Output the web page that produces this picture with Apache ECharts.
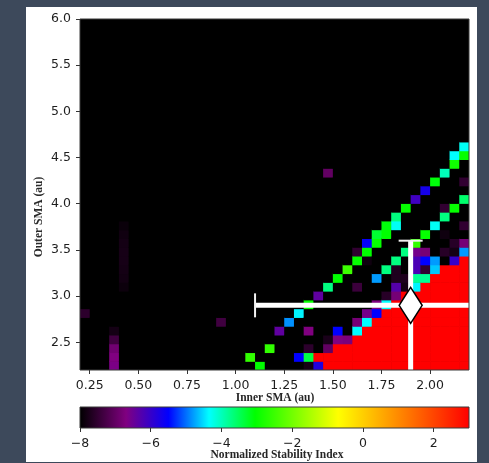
<!DOCTYPE html>
<html><head><meta charset="utf-8">
<script src="https://cdn.jsdelivr.net/npm/echarts@6/dist/echarts.min.js"></script>
<style>html,body{margin:0;padding:0;background:#3d495b;}#c{width:489px;height:463px;}</style>
</head><body><div id="c"></div>
<script>
// ---- grid of simulated orbits (cell centres) ----
const innerSma = [0.225,0.275,0.325,0.375,0.425,0.475,0.525,0.575,0.625,0.675,
  0.725,0.775,0.825,0.875,0.925,0.975,1.025,1.075,1.125,1.175,
  1.225,1.275,1.325,1.375,1.425,1.475,1.525,1.575,1.625,1.675,
  1.725,1.775,1.825,1.875,1.925,1.975,2.025,2.075,2.125,2.175];
const outerSma = [2.2475,2.3425,2.4375,2.5325,2.6275,2.7225,2.8175,2.9125,3.0075,3.1025,
  3.1975,3.2925,3.3875,3.4825,3.5775,3.6725,3.7675,3.8625,3.9575,4.0525,
  4.1475,4.2425,4.3375,4.4325,4.5275,4.6225,4.7175,4.8125,4.9075,5.0025,
  5.0975,5.1925,5.2875,5.3825,5.4775,5.5725,5.6675,5.7625,5.8575,5.9525];
const xTicks = [0.25,0.50,0.75,1.00,1.25,1.50,1.75,2.00];
const yTicks = [2.5,3.0,3.5,4.0,4.5,5.0,5.5,6.0];
const cbarTicks = [-8,-6,-4,-2,0,2];
const indexRange = [-8, 3];
const backgroundIndex = -8;
const stableIndex = 3;
// stable (red) runs: [column, fromRow, toRow]
const stableRuns = [[24,1,1],[25,0,1],[26,0,2],[27,0,2],[28,0,3],[29,0,4],[30,0,5],[31,0,6],
  [32,0,7],[33,0,8],[34,0,8],[35,0,9],[36,0,10],[37,0,11],[38,0,11],[39,0,12]];
// other cells: [column, row, stability index]
const cells = [
  [0,6,-7.55],
  [3,0,-6.65],[3,1,-6.7],[3,2,-6.85],[3,3,-7.35],[3,4,-7.8],
  [4,9,-7.88],[4,10,-7.82],[4,11,-7.8],[4,12,-7.78],[4,13,-7.78],[4,14,-7.8],[4,15,-7.84],[4,16,-7.9],
  [14,5,-7.35],[25,22,-7.0],
  [17,1,-2.6],[18,0,-3.05],[19,2,-2.6],
  [20,4,-6.4],[21,5,-4.85],[22,6,-4.4],[23,7,-3.0],[24,8,-6.4],[25,9,-3.7],[26,10,-3.05],
  [27,11,-2.5],[28,12,-3.0],[28,13,-7.5],[29,13,-3.05],[29,14,-5.55],[30,14,-3.0],[30,15,-3.3],
  [31,15,-3.05],[31,16,-3.1],[32,16,-4.3],[32,17,-3.7],[33,18,-3.0],[34,19,-6.1],[35,20,-5.7],
  [36,21,-3.1],[37,22,-4.0],[38,23,-2.9],[38,24,-4.35],[39,24,-3.0],[39,25,-4.3],
  [22,1,-5.5],[23,1,-3.4],[23,0,-7.8],[24,0,-5.8],
  [23,2,-7.55],[25,2,-7.0],
  [25,3,-7.75],[26,3,-6.7],[27,3,-6.75],
  [23,4,-6.7],[26,4,-5.5],[28,4,-4.35],
  [28,5,-6.8],[29,5,-4.35],
  [29,6,-6.6],[30,6,-5.5],
  [30,7,-6.7],[31,7,-4.35],
  [31,8,-7.6],[32,8,-6.8],
  [28,9,-7.4],[32,9,-6.3],[33,9,-7.8],[34,9,-4.4],
  [30,10,-4.8],[32,10,-7.7],[33,10,-7.7],[34,10,-3.8],[35,10,-3.8],
  [31,11,-3.7],[32,11,-7.7],[34,11,-6.2],[35,11,-7.5],[36,11,-4.6],
  [29,12,-7.85],[32,12,-3.7],[34,12,-6.2],[35,12,-5.5],[36,12,-4.8],[38,12,-6.0],
  [33,13,-3.7],[34,13,-6.6],[35,13,-6.8],[37,13,-7.6],[38,13,-7.8],[39,13,-4.8],
  [34,14,-2.6],[38,14,-7.6],[39,14,-6.8],
  [35,15,-3.0],[37,15,-7.85],
  [36,16,-4.3],[39,16,-7.5],
  [37,17,-3.7],
  [37,18,-7.5],[38,18,-3.0],
  [39,19,-3.6],
  [39,21,-7.5]
];
// measured system: [x, y, xErrLow, xErrHigh, yErrLow, yErrHigh]
const measurement = [[1.9, 2.9, 0.8, 0.8, 0.8, 0.7]];
// colormap stops [index, colour]
const cmapStops = [[-8,'#000000'],[-6.7,'#800080'],[-5.5,'#0000ff'],[-4.35,'#00ffff'],
  [-3.05,'#00ff00'],[-0.7,'#ffff00'],[3,'#ff0000']];

// ---- build matrix ----
const matrix = innerSma.map(() => outerSma.map(() => backgroundIndex));
stableRuns.forEach(([c, r0, r1]) => { for (let r = r0; r <= r1; r++) matrix[c][r] = stableIndex; });
cells.forEach(([c, r, v]) => { matrix[c][r] = v; });
const heatData = [];
innerSma.forEach((x, c) => outerSma.forEach((y, r) => heatData.push([x, y, matrix[c][r]])));
const cellW = innerSma[1] - innerSma[0];
const cellH = outerSma[1] - outerSma[0];

function hexRgb(h){ return [parseInt(h.slice(1,3),16),parseInt(h.slice(3,5),16),parseInt(h.slice(5,7),16)]; }
function cmap(v){
  if (v <= cmapStops[0][0]) return cmapStops[0][1];
  for (let i = 1; i < cmapStops.length; i++) {
    if (v <= cmapStops[i][0]) {
      const [v0,c0] = cmapStops[i-1], [v1,c1] = cmapStops[i];
      const t = (v - v0) / (v1 - v0), a = hexRgb(c0), b = hexRgb(c1);
      return 'rgb(' + a.map((q,k) => Math.round(q + (b[k]-q)*t)).join(',') + ')';
    }
  }
  return cmapStops[cmapStops.length-1][1];
}

const PL = 80, PT = 19, PW = 389, PH = 351;
const CT = 407, CH = 21;
const tickFont = {fontFamily:'DejaVu Sans', fontSize:12.5, color:'#1e1e1e'};
const titleFont = 'bold 11.5px "Liberation Serif"';

const chart = echarts.init(document.getElementById('c'), null, {renderer:'canvas'});
chart.setOption({
  animation:false,
  backgroundColor:'#3d495b',
  graphic:[
    {type:'rect', z:-10, shape:{x:26,y:7,width:451,height:455}, style:{fill:'#ffffff'}},
    {type:'rect', z:100, shape:{x:PL,y:PT,width:PW,height:PH}, style:{fill:'none',stroke:'#3a3a3a',lineWidth:1}},
    {type:'rect', z:100, shape:{x:PL,y:CT,width:PW,height:CH}, style:{fill:'none',stroke:'#3a3a3a',lineWidth:1}},
    {type:'text', z:100, x:275, y:398, style:{text:'Inner SMA (au)', font:titleFont, fill:'#262626', align:'center', verticalAlign:'middle'}},
    {type:'text', z:100, x:277, y:455, style:{text:'Normalized Stability Index', font:titleFont, fill:'#262626', align:'center', verticalAlign:'middle'}},
    {type:'text', z:100, x:39, y:217, rotation:Math.PI/2, style:{text:'Outer SMA (au)', font:titleFont, fill:'#2a2a2a', align:'center', verticalAlign:'middle'}}
  ],
  grid:[
    {left:PL, top:PT, width:PW, height:PH, show:true, backgroundColor:'#000000', borderWidth:0},
    {left:PL, top:CT, width:PW, height:CH, show:false}
  ],
  xAxis:[
    {type:'value', gridIndex:0, min:0.2, max:2.2, splitLine:{show:false},
     axisLine:{show:false},
     axisTick:{show:true, length:4, customValues:xTicks, lineStyle:{color:'#333'}},
     axisLabel:{customValues:xTicks, margin:9, formatter:v=>v.toFixed(2), ...tickFont}},
    {type:'value', gridIndex:1, min:indexRange[0], max:indexRange[1], splitLine:{show:false},
     axisLine:{show:false},
     axisTick:{show:true, length:4, customValues:cbarTicks, lineStyle:{color:'#333'}},
     axisLabel:{customValues:cbarTicks, margin:9, formatter:v=>String(v).replace('-','\u2212'), ...tickFont}}
  ],
  yAxis:[
    {type:'value', gridIndex:0, min:2.2, max:6.0, splitLine:{show:false},
     axisLine:{show:false},
     axisTick:{show:true, length:4, customValues:yTicks, lineStyle:{color:'#333'}},
     axisLabel:{customValues:yTicks, margin:9, formatter:v=>v.toFixed(1), ...tickFont}},
    {type:'value', gridIndex:1, min:0, max:1, show:false}
  ],
  series:[
    {type:'custom', name:'stability', xAxisIndex:0, yAxisIndex:0, data:heatData, clip:true,
     progressive:0, silent:true, z:2,
     renderItem:(params, api) => {
       const x = api.value(0), y = api.value(1), v = api.value(2);
       const a = api.coord([x - cellW/2, y + cellH/2]);
       const b = api.coord([x + cellW/2, y - cellH/2]);
       return {type:'rect', shape:{x:a[0], y:a[1], width:b[0]-a[0]+0.6, height:b[1]-a[1]+0.6},
               style:{fill:cmap(v)}};
     }},
    {type:'custom', name:'errorbar', xAxisIndex:0, yAxisIndex:0, data:measurement, clip:true,
     silent:true, z:5,
     renderItem:(params, api) => {
       const x = api.value(0), y = api.value(1);
       const L = api.coord([x - api.value(2), y]), R = api.coord([x + api.value(3), y]);
       const B = api.coord([x, y - api.value(4)]), T = api.coord([x, y + api.value(5)]);
       const st = {stroke:'#ffffff', lineWidth:5};
       const cap = {stroke:'#f2f2f2', lineWidth:2};
       const h = 12;
       return {type:'group', children:[
         {type:'line', shape:{x1:L[0],y1:L[1],x2:R[0],y2:R[1]}, style:st},
         {type:'line', shape:{x1:B[0],y1:B[1],x2:T[0],y2:T[1]}, style:st},
         {type:'line', shape:{x1:L[0],y1:L[1]-h,x2:L[0],y2:L[1]+h}, style:cap},
         {type:'line', shape:{x1:R[0],y1:R[1]-h,x2:R[0],y2:R[1]+h}, style:cap},
         {type:'line', shape:{x1:T[0]-h,y1:T[1],x2:T[0]+h,y2:T[1]}, style:cap},
         {type:'line', shape:{x1:B[0]-h,y1:B[1],x2:B[0]+h,y2:B[1]}, style:cap}
       ]};
     }},
    {type:'custom', name:'system', xAxisIndex:0, yAxisIndex:0, data:measurement, clip:false,
     silent:true, z:6,
     renderItem:(params, api) => {
       const p = api.coord([api.value(0), api.value(1)]);
       const w = 11.5, hh = 18;
       return {type:'polygon', shape:{points:[[p[0],p[1]-hh],[p[0]+w,p[1]],[p[0],p[1]+hh],[p[0]-w,p[1]]]},
               style:{fill:'#ffffff', stroke:'#000000', lineWidth:1.5}};
     }},
    {type:'custom', name:'colorbar', xAxisIndex:1, yAxisIndex:1, data:[indexRange], silent:true,
     renderItem:(params, api) => {
       const a = api.coord([api.value(0), 1]), b = api.coord([api.value(1), 0]);
       const lo = indexRange[0], hi = indexRange[1];
       const grad = new echarts.graphic.LinearGradient(0,0,1,0,
         cmapStops.map(([v,c]) => ({offset:(v-lo)/(hi-lo), color:c})));
       return {type:'rect', shape:{x:a[0], y:a[1], width:b[0]-a[0], height:b[1]-a[1]}, style:{fill:grad}};
     }}
  ]
});
</script></body></html>
